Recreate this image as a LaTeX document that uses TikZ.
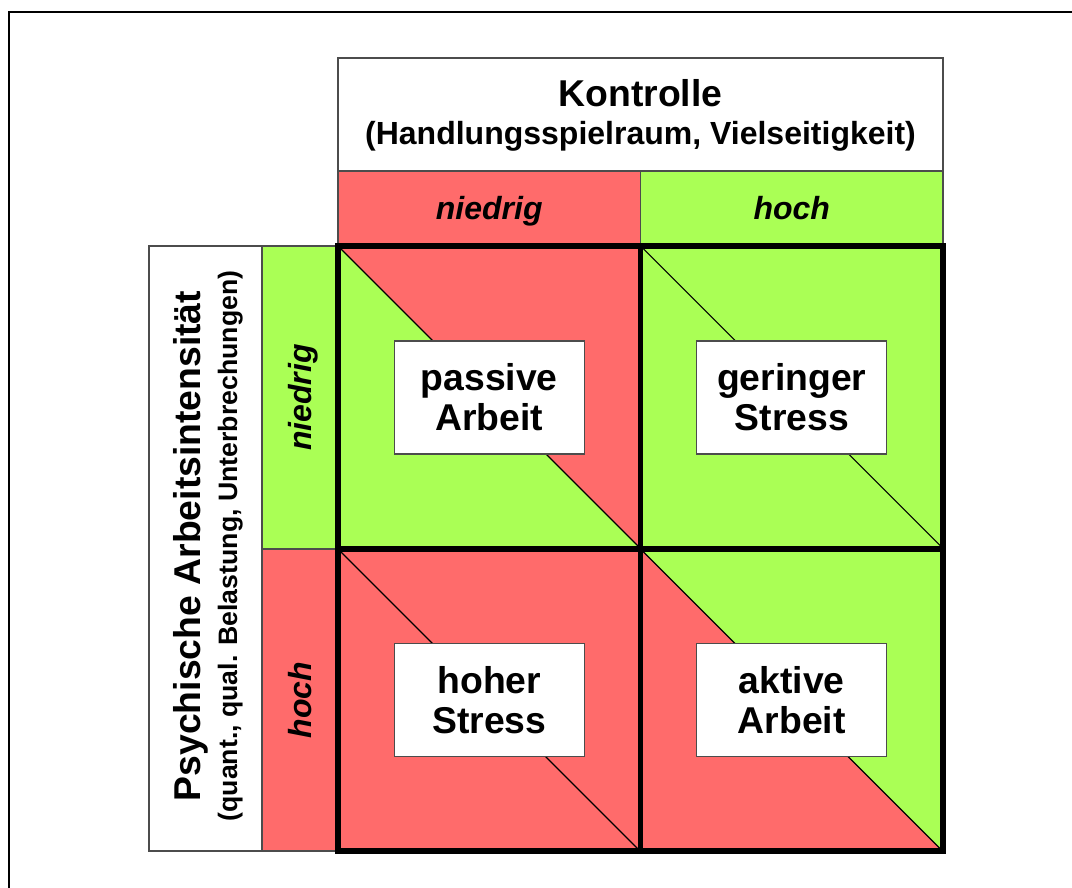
\documentclass[tikz,border=0pt]{standalone}
\usepackage{fontspec}
\setmainfont{Liberation Sans}
\usepackage{tikz}

\definecolor{lowred}{HTML}{FF6B6B}
\definecolor{highgreen}{HTML}{AAFF55}

\tikzset{
    framebox/.style={draw=black!70, line width=0.9pt},
    cellbox/.style={draw=black!70, line width=0.9pt, fill=white, inner sep=0pt,
        minimum width=142.5pt, minimum height=84.75pt, align=center,
        font=\fontsize{28}{30}\selectfont\bfseries},
    leveltext/.style={font=\fontsize{24}{28}\selectfont\bfseries\itshape, inner sep=0pt},
    gridline/.style={line width=4pt},
}

\begin{document}
\begin{tikzpicture}[x=0.75pt,y=-0.75pt]

    \useasboundingbox (0,0) rectangle (1072,888);
    \draw[line width=1.5pt] (9,888) -- (9,12) -- (1072,12);

    % header
    \draw[framebox, fill=white] (338,58) rectangle (943,171);
    \draw[framebox, fill=lowred] (338,171) rectangle (640.5,246);
    \draw[framebox, fill=highgreen] (640.5,171) rectangle (943,246);

    % left column
    \draw[framebox, fill=white] (149,246) rectangle (262,851);
    \draw[framebox, fill=highgreen] (262,246) rectangle (338,549);
    \draw[framebox, fill=lowred] (262,549) rectangle (338,851);

    % cells
    \fill[lowred] (338,246) rectangle (640.5,549);
    \fill[highgreen] (338,246) -- (640.5,549) -- (338,549) -- cycle;
    \fill[highgreen] (640.5,246) rectangle (943,549);
    \fill[lowred] (338,549) rectangle (640.5,851);
    \fill[lowred] (640.5,549) rectangle (943,851);
    \fill[highgreen] (640.5,549) -- (943,549) -- (943,851) -- cycle;

    \foreach \cx/\cy in {338/246, 640.5/246, 338/549, 640.5/549}
        \draw[line width=0.8pt] (\cx,\cy) -- ++(302.5,302.5);

    \draw[gridline] (338,246) rectangle (943,851);
    \draw[gridline] (640.5,246) -- (640.5,851);
    \draw[gridline] (338,549) -- (943,549);

    \node[cellbox] (passive) at (489.25,397.5) {passive\\Arbeit};
    \node[cellbox] (gering) at (791.75,397.5) {geringer\\Stress};
    \node[cellbox] (hoher) at (489.25,700) {hoher\\Stress};
    \node[cellbox] (aktiv) at (791.75,700) {aktive\\Arbeit};

    % labels
    \node[anchor=base, inner sep=0pt, font=\fontsize{28}{30}\selectfont\bfseries] (kontrolle) at (640.5,107) {Kontrolle};
    \node[anchor=base, inner sep=0pt, font=\fontsize{24}{28}\selectfont\bfseries] (spielraum) at (640.5,145) {(Handlungsspielraum, Vielseitigkeit)};

    \node[leveltext, anchor=base] (ctrllow) at (489.25,220) {niedrig};
    \node[leveltext, anchor=base] (ctrlhigh) at (791.75,220) {hoch};

    \node[leveltext, anchor=base, rotate=90] (loadlow) at (311,397.5) {niedrig};
    \node[leveltext, anchor=base, rotate=90] (loadhigh) at (311,700) {hoch};

    \node[anchor=base, rotate=90, inner sep=0pt, font=\fontsize{28}{30}\selectfont\bfseries] (intens) at (200,546) {Psychische Arbeitsintensität};
    \node[anchor=base, rotate=90, inner sep=0pt, font=\fontsize{20}{24}\selectfont\bfseries] (belast) at (237,546) {(quant., qual. Belastung, Unterbrechungen)};

\end{tikzpicture}
\end{document}
